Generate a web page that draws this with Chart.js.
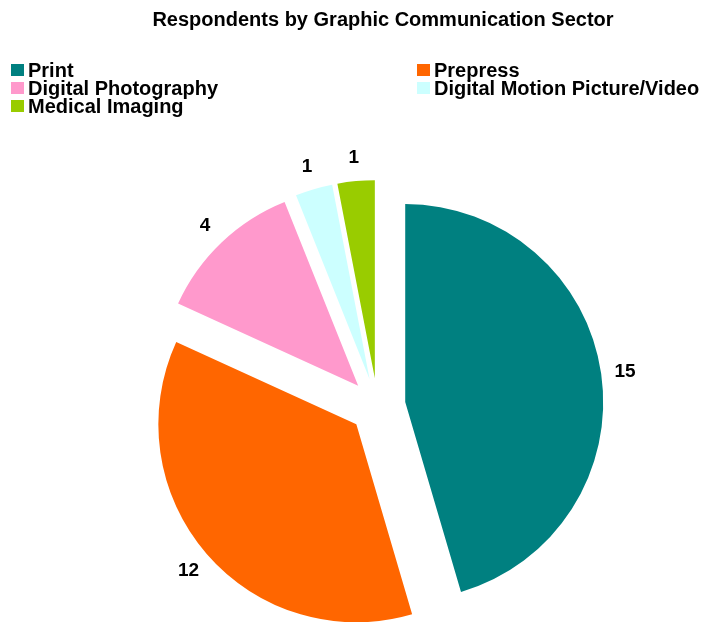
<!DOCTYPE html>
<html>
<head>
<meta charset="utf-8">
<title>Respondents by Graphic Communication Sector</title>
<script src="https://cdn.jsdelivr.net/npm/chart.js@4.4.1/dist/chart.umd.min.js"></script>
<style>
  body { margin: 0; background: #fff; }
  #wrap { position: relative; width: 701px; height: 622px; }
  #wrap canvas { position: absolute; left: 0; top: 0; }
  .txt {
    position: absolute;
    white-space: nowrap;
    font-family: Arial, "Liberation Sans", sans-serif;
    font-weight: bold;
    font-size: 20px;
    color: #000;
  }
  #title { top: 7px; left: 383px; line-height: 24px; transform: translateX(-50%); }
  .legend-text { line-height: 18px; }
  .swatch { position: absolute; width: 13px; height: 12px; }
</style>
</head>
<body>
<div id="wrap">
  <canvas id="sector-pie" width="701" height="622"></canvas>
  <div id="title" class="txt">Respondents by Graphic Communication Sector</div>
</div>
<script>
const sectors = ['Print', 'Prepress', 'Digital Photography', 'Digital Motion Picture/Video', 'Medical Imaging'];
const respondents = [15, 12, 4, 1, 1];
const sectorColors = ['#008080', '#FF6600', '#FF99CC', '#CCFFFF', '#99CC00'];

// how far every slice is pulled away from the centre
const EXPLODE = 28;

// legend: two columns, filled row by row
const wrap = document.getElementById('wrap');
const legendCols = [11, 417];
const legendRows = [60.5, 78.5, 96.5];
sectors.forEach((name, i) => {
  const x = legendCols[i % 2];
  const top = legendRows[Math.floor(i / 2)];
  const sw = document.createElement('div');
  sw.className = 'swatch';
  sw.style.left = x + 'px';
  sw.style.top = (top + 3.5) + 'px';
  sw.style.background = sectorColors[i];
  wrap.appendChild(sw);
  const t = document.createElement('div');
  t.className = 'txt legend-text';
  t.style.left = (x + 17) + 'px';
  t.style.top = top + 'px';
  t.textContent = name;
  wrap.appendChild(t);
});

const explodedSlices = {
  id: 'explodedSlices',
  beforeDatasetDraw(chart, args) {
    const ctx = chart.ctx;
    args.meta.data.forEach(arc => {
      const mid = (arc.startAngle + arc.endAngle) / 2;
      ctx.save();
      ctx.translate(Math.cos(mid) * EXPLODE, Math.sin(mid) * EXPLODE);
      arc.draw(ctx);
      ctx.restore();
    });
    return false;
  },
  afterDatasetsDraw(chart) {
    const ctx = chart.ctx;
    const meta = chart.getDatasetMeta(0);
    ctx.save();
    ctx.font = 'bold 19px Arial, "Liberation Sans", sans-serif';
    ctx.fillStyle = '#000';
    ctx.textAlign = 'center';
    ctx.textBaseline = 'middle';
    meta.data.forEach((arc, i) => {
      const mid = (arc.startAngle + arc.endAngle) / 2;
      const r = arc.outerRadius + EXPLODE + 24;
      ctx.fillText(String(respondents[i]), arc.x + Math.cos(mid) * r, arc.y + Math.sin(mid) * r + 1);
    });
    ctx.restore();
  }
};

new Chart(document.getElementById('sector-pie'), {
  type: 'pie',
  data: {
    labels: sectors,
    datasets: [{
      data: respondents,
      backgroundColor: sectorColors,
      borderWidth: 0,
      radius: 198
    }]
  },
  options: {
    responsive: false,
    animation: false,
    layout: { padding: { left: 54, top: 190, right: 0, bottom: 0 } },
    plugins: {
      legend: { display: false },
      tooltip: { enabled: false },
      title: { display: false }
    }
  },
  plugins: [explodedSlices]
});
</script>
</body>
</html>
